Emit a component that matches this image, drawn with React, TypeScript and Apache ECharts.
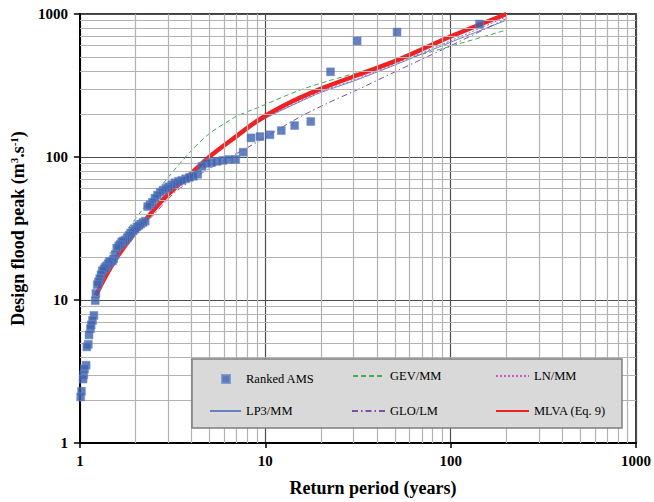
import React, { useEffect, useRef } from "react";
import * as echarts from "echarts";

// Ranked annual maximum series (return period in years, peak in m3/s)
const returnPeriodYears = [
  143.1, 51.4, 31.3, 22.5, 17.6, 14.4, 12.2, 10.6, 9.36, 8.38,
  7.59, 6.93, 6.38, 5.91, 5.5, 5.15, 4.84, 4.56, 4.32, 4.1,
  3.9, 3.72, 3.55, 3.4, 3.26, 3.13, 3.01, 2.91, 2.81, 2.71,
  2.62, 2.54, 2.46, 2.39, 2.32, 2.25, 2.19, 2.13, 2.08, 2.03,
  1.98, 1.93, 1.88, 1.84, 1.8, 1.76, 1.72, 1.68, 1.65, 1.62,
  1.58, 1.55, 1.52, 1.5, 1.47, 1.44, 1.42, 1.39, 1.37, 1.35,
  1.32, 1.3, 1.28, 1.26, 1.24, 1.22, 1.21, 1.19, 1.17, 1.15,
  1.14, 1.12, 1.11, 1.09, 1.08, 1.06, 1.05, 1.04, 1.02, 1.01,
];
const rankedAmsPeak = [
  851, 748, 648, 394, 177, 166, 153, 143, 139, 136,
  108, 96.2, 96, 94.7, 93.2, 91.7, 90.2, 86, 75.7, 73.3,
  72.1, 70.4, 68.7, 67.6, 66, 63.9, 61.9, 60.4, 58.6, 56.7,
  54.1, 51.5, 48.3, 46.4, 45, 35.6, 34.8, 34, 33.2, 32.4,
  31.3, 30.4, 29.4, 28.2, 27.2, 26.3, 25.9, 25.5, 24.5, 23.9,
  23.1, 20.7, 19.4, 18.8, 18.6, 18.5, 17.9, 17.3, 16.9, 16.5,
  16, 15, 14.1, 13.4, 12.8, 11.1, 9.9, 7.8, 7.2, 6.7,
  6.3, 5.7, 4.9, 4.7, 3.5, 3.3, 3.0, 2.8, 2.3, 2.1,
];

// Fitted distributions
const gevT = [1.45, 1.56, 1.8, 2.21, 2.94, 3.92, 5, 6.4, 7, 9.3, 15.2, 22, 31.7, 52, 100, 200];
const gevQ = [21, 24, 31, 44, 70, 108, 146, 180, 193, 224, 292, 341, 390, 468, 595, 773];

const lnT = [1.22, 1.5, 2, 2.5, 3, 4, 5, 7, 10, 15, 20, 30, 50, 100, 200];
const lnQ = [11, 18, 30, 42, 54, 76, 98, 140, 188, 243, 288, 345, 448, 650, 955];

const lp3T = [1.22, 1.5, 2, 2.5, 3, 4, 5, 7, 10, 15, 20, 30, 50, 100, 200];
const lp3Q = [10.9, 17.9, 30, 42, 54, 76, 98, 139, 186, 240, 283, 340, 440, 635, 905];

const gloT = [1.22, 1.5, 2, 2.5, 3, 3.33, 4.6, 5, 7.7, 9.3, 15.2, 22, 31.7, 51.9, 100, 200];
const gloQ = [10.6, 17.5, 29, 39.5, 51, 58, 78, 83, 113, 130, 189, 240, 297, 403, 600, 930];

const mlvaT = [1.22, 1.4, 1.6, 2, 2.82, 4, 5.02, 7, 9.3, 14, 21, 31.8, 52, 100, 200];
const mlvaQ = [10.8, 15.2, 20.3, 30, 50.7, 77, 101, 140, 183, 245, 308, 376, 478, 696, 1000];

const minorTicks = [2, 3, 4, 5, 6, 7, 8, 9, 20, 30, 40, 50, 60, 70, 80, 90, 200, 300, 400, 500, 600, 700, 800, 900];

const pairs = (t: number[], q: number[]) => t.map((v, i) => [v, q[i]]);

const SERIF = "'Liberation Serif', 'Times New Roman', serif";

export default function App() {
  const ref = useRef<HTMLDivElement>(null);
  useEffect(() => {
    if (!ref.current) return;
    const chart = echarts.init(ref.current, null, { renderer: "svg" });
    const legendText = { fontFamily: SERIF, fontSize: 12.5, color: "#000", lineHeight: 14 };
    const hiddenSymbol = { color: "transparent", borderColor: "transparent", borderWidth: 0, opacity: 0 };
    const mkLegend = (name: string, left: number, top: number, w: number, extra: any = {}) => ({
      data: [name],
      left,
      top,
      itemWidth: w,
      itemHeight: 14,
      padding: 0,
      selectedMode: false,
      z: 60,
      textStyle: legendText,
      itemStyle: hiddenSymbol,
      ...extra,
    });
    chart.setOption({
      animation: false,
      backgroundColor: "#ffffff",
      grid: {
        left: 79,
        right: 14,
        top: 14,
        bottom: 57,
        show: true,
        borderColor: "#000",
        borderWidth: 1.5,
        backgroundColor: "transparent",
      },
      xAxis: {
        type: "log",
        logBase: 10,
        min: 1,
        max: 1000,
        name: "Return period (years)",
        nameLocation: "middle",
        nameGap: 36,
        nameTextStyle: {
          fontFamily: SERIF,
          fontWeight: "bold",
          fontSize: 18,
          color: "#000",
          padding: [0, 0, 0, 30],
        },
        axisLine: { show: true, lineStyle: { color: "#000", width: 2 } },
        axisTick: { show: true, length: 5, lineStyle: { color: "#000", width: 1.5 } },
        axisLabel: {
          fontFamily: SERIF,
          fontWeight: "bold",
          fontSize: 15,
          color: "#000",
          margin: 10,
          formatter: (v: number) => String(v),
        },
        splitLine: { show: true, lineStyle: { color: "#4d4d4d", width: 1.2 } },
      },
      yAxis: {
        type: "log",
        logBase: 10,
        min: 1,
        max: 1000,
        name: "{a|Design flood peak (m}{s|3}{a|.s}{s|-1}{a|)}",
        nameLocation: "middle",
        nameRotate: 90,
        nameGap: 46,
        nameTextStyle: {
          rich: {
            a: { fontFamily: SERIF, fontWeight: "bold", fontSize: 18, color: "#000", lineHeight: 20 },
            s: { fontFamily: SERIF, fontWeight: "bold", fontSize: 11, color: "#000", verticalAlign: "top", lineHeight: 20 },
          },
        },
        axisLine: { show: true, lineStyle: { color: "#000", width: 2 } },
        axisTick: { show: true, length: 6, lineStyle: { color: "#000", width: 1.5 } },
        axisLabel: {
          fontFamily: SERIF,
          fontWeight: "bold",
          fontSize: 15,
          color: "#000",
          margin: 12,
          formatter: (v: number) => String(v),
        },
        splitLine: { show: true, lineStyle: { color: "#4d4d4d", width: 1.2 } },
      },
      legend: [
        mkLegend("Ranked AMS", 221, 372, 8, {
          itemHeight: 8,
          data: [{ name: "Ranked AMS", icon: "rect" }],
          itemStyle: {},
          textStyle: { ...legendText, padding: [0, 0, 0, 11] },
        }),
        mkLegend("GEV/MM", 352, 369, 32),
        mkLegend("LN/MM", 495, 369, 33),
        mkLegend("LP3/MM", 209, 404, 31),
        mkLegend("GLO/LM", 351, 404, 33),
        mkLegend("MLVA (Eq. 9)", 495, 404, 33),
      ],
      graphic: {
        elements: [
          {
            type: "rect",
            z: 50,
            shape: { x: 192, y: 359, width: 430, height: 69 },
            style: { fill: "#d9d9d9", stroke: "#7f7f7f", lineWidth: 1.5 },
            silent: true,
          },
        ],
      },
      series: [
        {
          name: "minor-grid",
          type: "line",
          z: 1,
          data: [[1, 1]],
          symbol: "none",
          lineStyle: { opacity: 0 },
          silent: true,
          markLine: {
            silent: true,
            symbol: "none",
            label: { show: false },
            lineStyle: { color: "#b3b3b3", width: 1.2, type: "solid" },
            emphasis: { disabled: true },
            data: [
              ...minorTicks.map((v) => ({ xAxis: v })),
              ...minorTicks.map((v) => ({ yAxis: v })),
            ],
          },
        },
        {
          name: "GEV/MM",
          type: "line",
          z: 3,
          data: pairs(gevT, gevQ),
          symbol: "none",
          smooth: 0.3,
          lineStyle: { color: "#3daa55", width: 1, type: [5, 3] },
          itemStyle: { color: "#3daa55" },
        },
        {
          name: "LN/MM",
          type: "line",
          z: 3,
          data: pairs(lnT, lnQ),
          symbol: "none",
          smooth: 0.3,
          lineStyle: { color: "#c05cc0", width: 1, type: [2, 2] },
          itemStyle: { color: "#c05cc0" },
        },
        {
          name: "LP3/MM",
          type: "line",
          z: 3,
          data: pairs(lp3T, lp3Q),
          symbol: "none",
          smooth: 0.3,
          lineStyle: { color: "#6b7fc4", width: 1, type: "solid" },
          itemStyle: { color: "#6b7fc4" },
        },
        {
          name: "GLO/LM",
          type: "line",
          z: 3,
          data: pairs(gloT, gloQ),
          symbol: "none",
          smooth: 0.3,
          lineStyle: { color: "#7a4fa8", width: 1, type: [6, 3, 1.5, 3] },
          itemStyle: { color: "#7a4fa8" },
        },
        {
          name: "MLVA (Eq. 9)",
          type: "line",
          z: 4,
          data: pairs(mlvaT, mlvaQ),
          symbol: "none",
          smooth: 0.3,
          lineStyle: { color: "#ee2222", width: 4.5 },
          itemStyle: { color: "#ee2222" },
        },
        {
          name: "Ranked AMS",
          type: "scatter",
          z: 5,
          data: pairs(returnPeriodYears, rankedAmsPeak),
          symbol: "rect",
          symbolSize: 8,
          itemStyle: { color: "#3d62ad", borderColor: "#6f8fcf", borderWidth: 0.6 },
        },
      ],
    });
    return () => chart.dispose();
  }, []);
  return (
    <div
      ref={ref}
      style={{ position: "fixed", left: 0, top: 0, width: 654, height: 502 }}
    />
  );
}
